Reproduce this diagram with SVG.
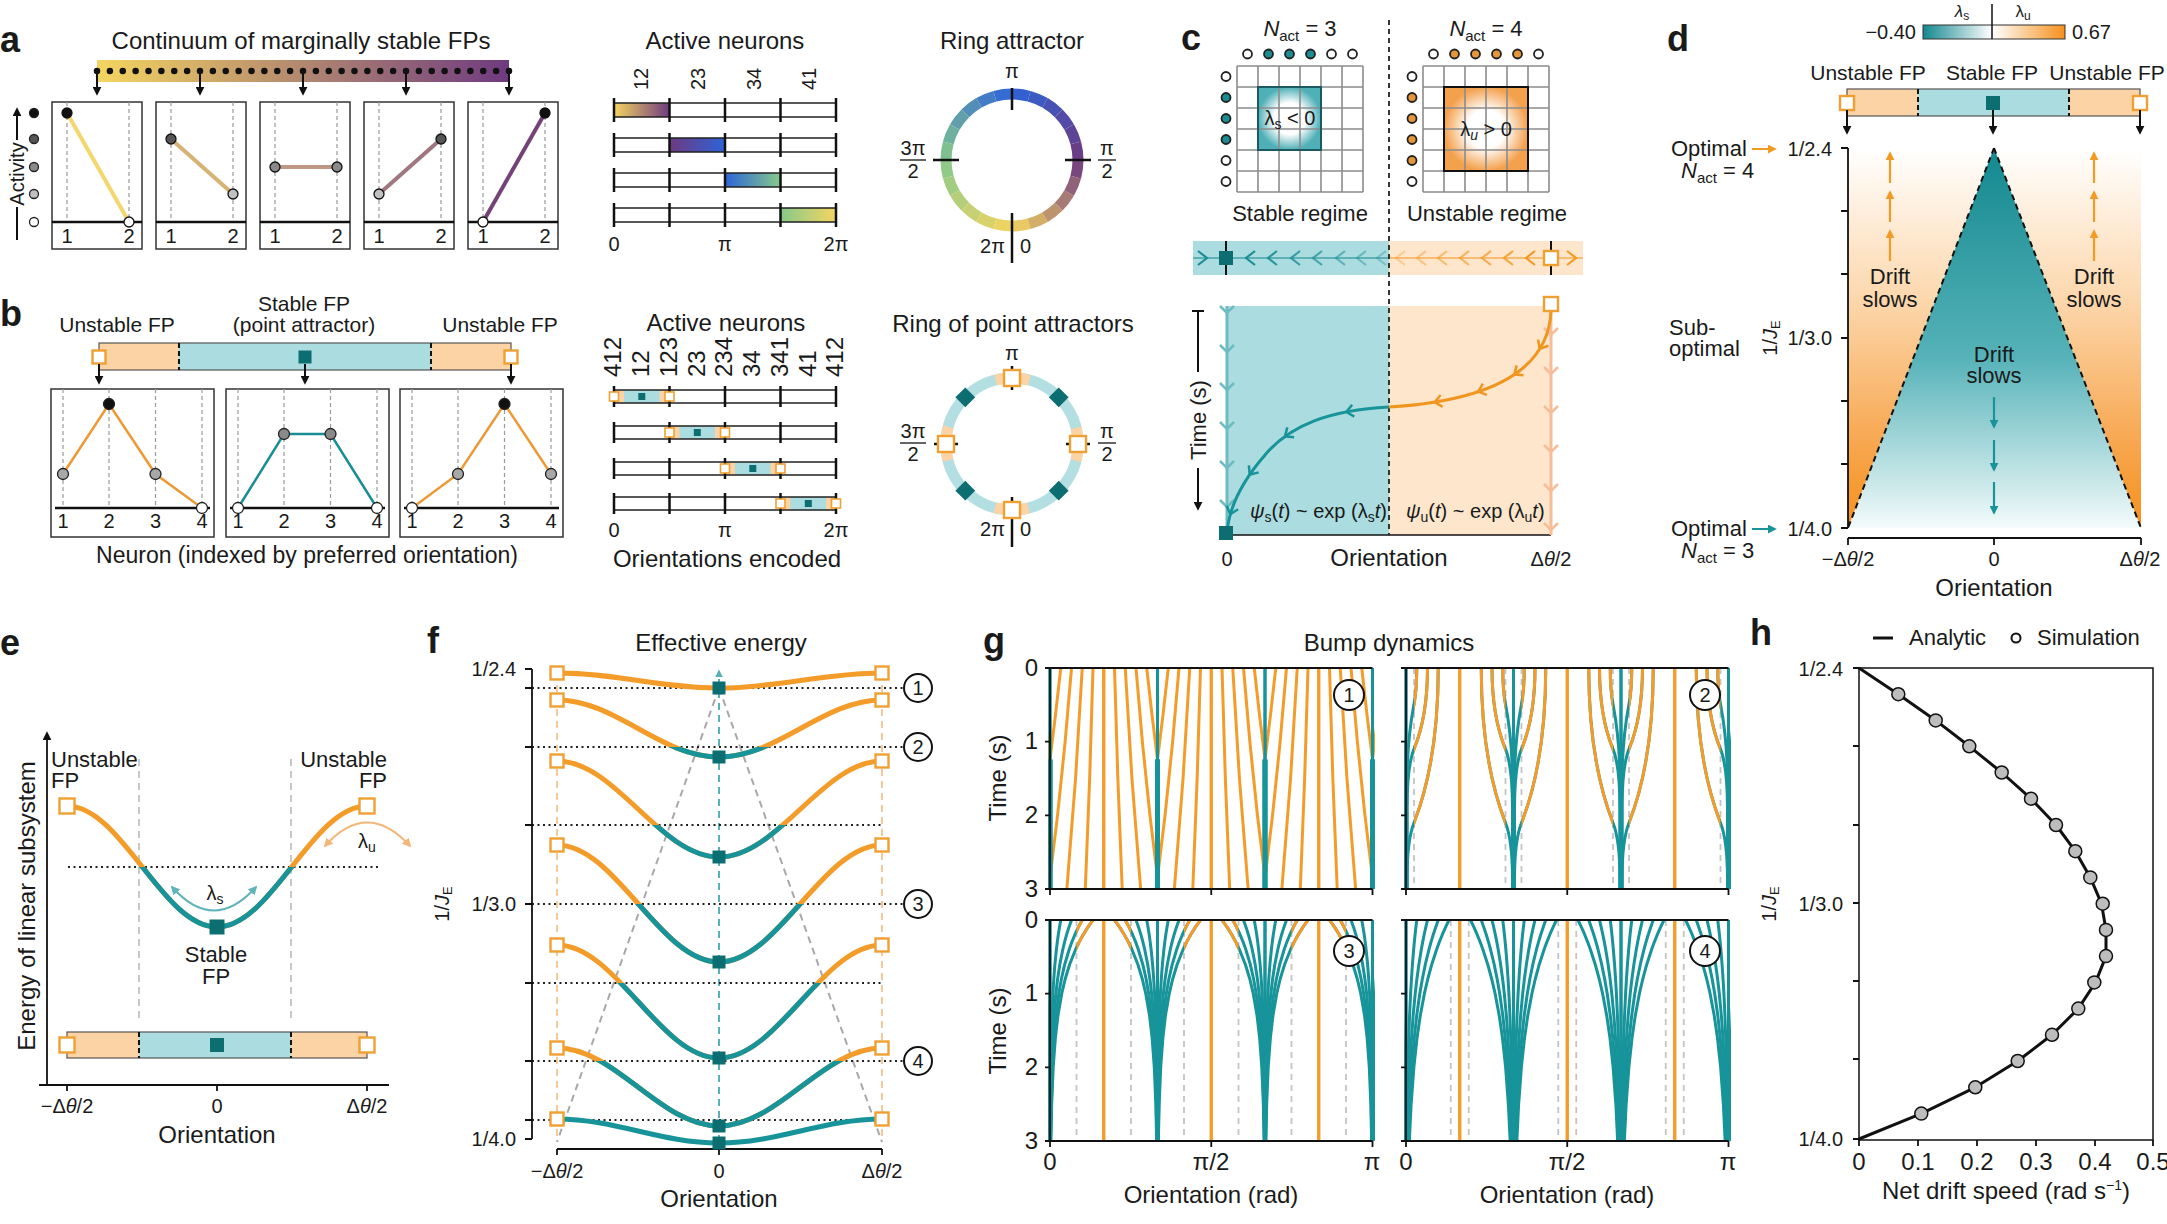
<svg xmlns="http://www.w3.org/2000/svg" width="2167" height="1224" viewBox="0 0 2167 1224">
<style>
text{font-family:"Liberation Sans",Arial,sans-serif;fill:#1a1a1a;font-size:24px}
.pl{font-size:36px;font-weight:bold}
.tk{font-size:20px}
.md{font-size:22px}
.m{text-anchor:middle}
.e{text-anchor:end}
.it{font-style:italic}
.box{fill:#fff;stroke:#333;stroke-width:1.5}
.dg{stroke:#9a9a9a;stroke-width:1.2;stroke-dasharray:4 3;fill:none}
.dg2{stroke:#c4c4c4;stroke-width:1.8;stroke-dasharray:6 5;fill:none}
.osq{fill:#fff;stroke:#f0a032;stroke-width:2.4}
.tsq{fill:#0d6e72}
.ax{stroke:#111;stroke-width:1.8;fill:none}
.ln{stroke:#111;stroke-width:2;fill:none}
.dot{stroke:#222;stroke-width:2;stroke-dasharray:2 3.5;fill:none}
.gl{stroke-width:3;fill:none;stroke-linejoin:round}
.ofill{fill:#fcd3a5}
.tfill{fill:#aadce0}
.sep{stroke:#111;stroke-width:2;stroke-dasharray:5 3;fill:none}
</style>
<defs>
<linearGradient id="gYP"><stop offset="0" stop-color="#f5d560"/><stop offset="1" stop-color="#6e3a80"/></linearGradient>
<linearGradient id="gPB"><stop offset="0" stop-color="#6e3a80"/><stop offset="1" stop-color="#2d63d8"/></linearGradient>
<linearGradient id="gBG"><stop offset="0" stop-color="#2d63d8"/><stop offset="1" stop-color="#86c98a"/></linearGradient>
<linearGradient id="gGY"><stop offset="0" stop-color="#86c98a"/><stop offset="1" stop-color="#f5d560"/></linearGradient>
<linearGradient id="gTH"><stop offset="0" stop-color="#13888f"/><stop offset="1" stop-color="#ffffff"/></linearGradient>
<linearGradient id="gOH"><stop offset="0" stop-color="#ffffff"/><stop offset="1" stop-color="#f5911c"/></linearGradient>
<linearGradient id="gTV" x1="0" y1="0" x2="0" y2="1"><stop offset="0" stop-color="#13888f"/><stop offset="0.55" stop-color="#55b2b8"/><stop offset="1" stop-color="#f4fbfb"/></linearGradient>
<linearGradient id="gOV" x1="0" y1="0" x2="0" y2="1"><stop offset="0" stop-color="#ffffff"/><stop offset="0.4" stop-color="#fcd7ac"/><stop offset="0.8" stop-color="#f7a44a"/><stop offset="1" stop-color="#f5911c"/></linearGradient>
<radialGradient id="rT"><stop offset="0" stop-color="#fff"/><stop offset="0.5" stop-color="#fff"/><stop offset="1" stop-color="#4fb0b7"/></radialGradient>
<radialGradient id="rO"><stop offset="0" stop-color="#fff"/><stop offset="0.45" stop-color="#fff"/><stop offset="1" stop-color="#f4a14e"/></radialGradient>
<marker id="ah" viewBox="0 0 10 10" refX="8" refY="5" markerWidth="9" markerHeight="9" markerUnits="userSpaceOnUse" orient="auto"><path d="M0,0L10,5L0,10z" fill="#111"/></marker>
<marker id="ahO" viewBox="0 0 10 10" refX="8" refY="5" markerWidth="9" markerHeight="9" markerUnits="userSpaceOnUse" orient="auto"><path d="M0,0L10,5L0,10z" fill="#f39a24"/></marker>
<marker id="ahT" viewBox="0 0 10 10" refX="8" refY="5" markerWidth="9" markerHeight="9" markerUnits="userSpaceOnUse" orient="auto"><path d="M0,0L10,5L0,10z" fill="#17939a"/></marker>
<marker id="ahT2" viewBox="0 0 10 10" refX="8" refY="5" markerWidth="8" markerHeight="8" markerUnits="userSpaceOnUse" orient="auto"><path d="M0,0L10,5L0,10z" fill="#5ab0b6"/></marker>
<marker id="ahLT" viewBox="0 0 10 10" refX="8" refY="5" markerWidth="9" markerHeight="9" markerUnits="userSpaceOnUse" orient="auto-start-reverse"><path d="M0,0L10,5L0,10z" fill="#5fb3b9"/></marker>
<marker id="ahLO" viewBox="0 0 10 10" refX="8" refY="5" markerWidth="9" markerHeight="9" markerUnits="userSpaceOnUse" orient="auto-start-reverse"><path d="M0,0L10,5L0,10z" fill="#f4b676"/></marker>
<clipPath id="ce"><rect x="40" y="867" width="360" height="80"/></clipPath>
<clipPath id="cf2"><rect x="540" y="747" width="360" height="20"/></clipPath>
<clipPath id="cf3"><rect x="540" y="825" width="360" height="40"/></clipPath>
<clipPath id="cf4"><rect x="540" y="904" width="360" height="65"/></clipPath>
<clipPath id="cf5"><rect x="540" y="983" width="360" height="80"/></clipPath>
<clipPath id="cf6"><rect x="540" y="1061" width="360" height="70"/></clipPath>
<clipPath id="cg1"><rect x="1048" y="666" width="327" height="225"/></clipPath>
<clipPath id="cg2"><rect x="1404" y="666" width="327" height="225"/></clipPath>
<clipPath id="cg3"><rect x="1048" y="918" width="327" height="225"/></clipPath>
<clipPath id="cg4"><rect x="1404" y="918" width="327" height="225"/></clipPath>
<clipPath id="cx2"><rect x="8" y="-5" width="60" height="235"/></clipPath>
<clipPath id="cx3"><rect x="26.5" y="-5" width="60" height="235"/></clipPath>
<g id="h1">
<g class="gl" stroke="#f39c2a">
<path d="M10.75,0L5.65,45.7L0,91.4"/>
<path d="M21.5,0L15.15,73.7L7.55,147.4L0,209.3"/>
<path d="M32.25,0L25.55,110.5L16.85,221"/>
<path d="M43,0L39.65,110.5L35.3,221"/>
<path d="M53.75,0V221"/>
</g>
<path d="M0,0V221" stroke="#17939a" stroke-width="3"/>
<path d="M0,91.4V221" stroke="#17939a" stroke-width="5"/>
</g>
<g id="l2" class="gl">
<path d="M10.75,0Q10.75,21.7 8,36.1Q1.5,70 1,110L1,221"/>
<path d="M21.5,0Q21.5,48.7 8,81.1Q1.25,97.3 1,140L1,221"/>
<path d="M32.25,0Q32.25,92.9 8,154.8Q1.2,172 1,210L1,221"/>
</g>
<g id="h2">
<path d="M8,0V221" class="dg2"/>
<use href="#l2" stroke="#17939a"/>
<use href="#l2" stroke="#f39c2a" clip-path="url(#cx2)"/>
<path d="M53.75,0V221" stroke="#f39c2a" stroke-width="3"/>
<path d="M0,0V221" stroke="#17939a" stroke-width="3"/>
</g>
<g id="l3" class="gl">
<polyline points="10.75,0 9.44,7.4 8.29,14.7 7.28,22.1 6.4,29.5 4.92,44.2 3.79,59 2.93,73.7 1.98,95.8 1.34,117.9 0.8,147.4 0.42,184.3 0.22,221"/>
<polyline points="21.5,0 18.88,7.4 16.58,14.7 14.56,22.1 12.79,29.5 9.85,44.2 7.59,59 5.86,73.7 3.97,95.8 2.69,117.9 1.6,147.4 0.83,184.3 0.43,221"/>
<polyline points="32.25,0 28.32,7.4 24.86,14.7 21.83,22.1 19.19,29.5 14.77,44.2 11.38,59 8.79,73.7 5.95,95.8 4.03,117.9 2.4,147.4 1.25,184.3 0.65,221"/>
<polyline points="43,0 37.75,7.4 33.15,14.7 29.11,22.1 25.59,29.5 19.69,44.2 15.18,59 11.72,73.7 7.93,95.8 5.38,117.9 3.19,147.4 1.67,184.3 0.87,221"/>
</g>
<g id="h3">
<path d="M26.5,0V221" class="dg2"/>
<use href="#l3" stroke="#17939a"/>
<use href="#l3" stroke="#f39c2a" clip-path="url(#cx3)"/>
<path d="M53.75,0V221" stroke="#f39c2a" stroke-width="3"/>
<path d="M0,0V221" stroke="#17939a" stroke-width="3"/>
</g>
<g id="l4" class="gl">
<polyline points="10.75,0 9.88,7.4 9.07,14.7 8.33,22.1 7.65,29.5 6.46,44.2 5.45,59 4.59,73.7 3.56,95.8 2.76,117.9 1.96,147.4 1.28,184.3 0.84,221"/>
<polyline points="21.5,0 19.75,7.4 18.14,14.7 16.66,22.1 15.3,29.5 12.91,44.2 10.89,59 9.19,73.7 7.12,95.8 5.52,117.9 3.93,147.4 2.57,184.3 1.68,221"/>
<polyline points="32.25,0 29.63,7.4 27.21,14.7 24.99,22.1 22.96,29.5 19.37,44.2 16.34,59 13.78,73.7 10.68,95.8 8.28,117.9 5.89,147.4 3.85,184.3 2.52,221"/>
<polyline points="43,0 39.5,7.4 36.28,14.7 33.33,22.1 30.61,29.5 25.82,44.2 21.78,59 18.38,73.7 14.24,95.8 11.04,117.9 7.86,147.4 5.13,184.3 3.36,221"/>
</g>
<g id="h4">
<path d="M44.75,0V221" class="dg2"/>
<use href="#l4" stroke="#17939a"/>
<path d="M53.75,0V221" stroke="#f39c2a" stroke-width="3"/>
<path d="M0,0V221" stroke="#17939a" stroke-width="3"/>
</g>
<g id="f1"><use href="#h1"/><use href="#h1" transform="scale(-1,1)"/></g>
<g id="f2"><use href="#h2"/><use href="#h2" transform="scale(-1,1)"/></g>
<g id="f3"><use href="#h3"/><use href="#h3" transform="scale(-1,1)"/></g>
<g id="f4"><use href="#h4"/><use href="#h4" transform="scale(-1,1)"/></g>
</defs>
<rect width="2167" height="1224" fill="#fff"/>

<!-- ================= PANEL A ================= -->
<g id="panel-a">
<text class="pl" x="0" y="52">a</text>
<text class="m" x="301" y="49">Continuum of marginally stable FPs</text>
<rect x="97" y="60" width="412" height="22" fill="url(#gYP)"/>
<line x1="97" y1="71" x2="509.1" y2="71" stroke="#111" stroke-width="6.5" stroke-linecap="round" stroke-dasharray="0 12.875"/>
<g class="ln">
<line x1="97" y1="71" x2="97" y2="94" marker-end="url(#ah)"/>
<line x1="200" y1="71" x2="200" y2="94" marker-end="url(#ah)"/>
<line x1="303" y1="71" x2="303" y2="94" marker-end="url(#ah)"/>
<line x1="406" y1="71" x2="406" y2="94" marker-end="url(#ah)"/>
<line x1="509" y1="71" x2="509" y2="94" marker-end="url(#ah)"/>
</g>
<g id="a-activity-axis">
<line x1="17" y1="240" x2="17" y2="207" class="ln"/>
<line x1="17" y1="140" x2="17" y2="109" class="ln" marker-end="url(#ah)"/>
<text class="tk m" transform="translate(24,174) rotate(-90)">Activity</text>
<g stroke="#222" stroke-width="1.3">
<circle cx="34" cy="113" r="4.5" fill="#111"/>
<circle cx="34" cy="139" r="4.5" fill="#555"/>
<circle cx="34" cy="167" r="4.5" fill="#8a8a8a"/>
<circle cx="34" cy="194" r="4.5" fill="#c0c0c0"/>
<circle cx="34" cy="222" r="4.5" fill="#fff"/>
</g>
</g>
<g id="a-box1">
<rect class="box" x="52" y="102" width="90" height="147"/>
<path class="dg" d="M67,102V222M129,102V222"/>
<path d="M52,222H142" stroke="#111" stroke-width="2.5"/>
<line x1="67" y1="113" x2="129" y2="222" stroke="#f3d76e" stroke-width="4"/>
<circle cx="67" cy="113" r="5" fill="#111" stroke="#111" stroke-width="1.3"/>
<circle cx="129" cy="222" r="5" fill="#fff" stroke="#111" stroke-width="1.3"/>
<text class="tk m" x="67" y="243">1</text><text class="tk m" x="129" y="243">2</text>
</g>
<g id="a-box2">
<rect class="box" x="156" y="102" width="90" height="147"/>
<path class="dg" d="M171,102V222M233,102V222"/>
<path d="M156,222H246" stroke="#111" stroke-width="2.5"/>
<line x1="171" y1="139" x2="233" y2="194" stroke="#d7b275" stroke-width="4"/>
<circle cx="171" cy="139" r="5" fill="#555" stroke="#111" stroke-width="1.3"/>
<circle cx="233" cy="194" r="5" fill="#c0c0c0" stroke="#111" stroke-width="1.3"/>
<text class="tk m" x="171" y="243">1</text><text class="tk m" x="233" y="243">2</text>
</g>
<g id="a-box3">
<rect class="box" x="260" y="102" width="90" height="147"/>
<path class="dg" d="M275,102V222M337,102V222"/>
<path d="M260,222H350" stroke="#111" stroke-width="2.5"/>
<line x1="275" y1="167" x2="337" y2="167" stroke="#bf9884" stroke-width="4"/>
<circle cx="275" cy="167" r="5" fill="#8a8a8a" stroke="#111" stroke-width="1.3"/>
<circle cx="337" cy="167" r="5" fill="#8a8a8a" stroke="#111" stroke-width="1.3"/>
<text class="tk m" x="275" y="243">1</text><text class="tk m" x="337" y="243">2</text>
</g>
<g id="a-box4">
<rect class="box" x="364" y="102" width="90" height="147"/>
<path class="dg" d="M379,102V222M441,102V222"/>
<path d="M364,222H454" stroke="#111" stroke-width="2.5"/>
<line x1="379" y1="194" x2="441" y2="139" stroke="#a07680" stroke-width="4"/>
<circle cx="379" cy="194" r="5" fill="#c0c0c0" stroke="#111" stroke-width="1.3"/>
<circle cx="441" cy="139" r="5" fill="#555" stroke="#111" stroke-width="1.3"/>
<text class="tk m" x="379" y="243">1</text><text class="tk m" x="441" y="243">2</text>
</g>
<g id="a-box5">
<rect class="box" x="468" y="102" width="90" height="147"/>
<path class="dg" d="M483,102V222M545,102V222"/>
<path d="M468,222H558" stroke="#111" stroke-width="2.5"/>
<line x1="483" y1="222" x2="545" y2="113" stroke="#744279" stroke-width="4"/>
<circle cx="483" cy="222" r="5" fill="#fff" stroke="#111" stroke-width="1.3"/>
<circle cx="545" cy="113" r="5" fill="#111" stroke="#111" stroke-width="1.3"/>
<text class="tk m" x="483" y="243">1</text><text class="tk m" x="545" y="243">2</text>
</g>
<g id="a-active">
<text class="m" x="725" y="49">Active neurons</text>
<text class="tk" transform="translate(648,90) rotate(-90)">12</text>
<text class="tk" transform="translate(705,90) rotate(-90)">23</text>
<text class="tk" transform="translate(761,90) rotate(-90)">34</text>
<text class="tk" transform="translate(816,90) rotate(-90)">41</text>
<rect x="614" y="103" width="55.5" height="14" fill="url(#gYP)"/>
<rect x="669.5" y="138" width="55.5" height="14" fill="url(#gPB)"/>
<rect x="725" y="173" width="55.5" height="14" fill="url(#gBG)"/>
<rect x="780.5" y="208" width="55.5" height="14" fill="url(#gGY)"/>
<path d="M614,103H836M614,117H836M614,138H836M614,152H836M614,173H836M614,187H836M614,208H836M614,222H836" stroke="#222" stroke-width="1.5"/>
<path d="M614,98V122M669.5,98V122M725,98V122M780.5,98V122M836,98V122M614,133V157M669.5,133V157M725,133V157M780.5,133V157M836,133V157M614,168V192M669.5,168V192M725,168V192M780.5,168V192M836,168V192M614,203V227M669.5,203V227M725,203V227M780.5,203V227M836,203V227" stroke="#111" stroke-width="2.5"/>
<text class="tk m" x="614" y="251">0</text>
<text class="tk m" x="725" y="251">π</text>
<text class="tk m" x="836" y="251">2π</text>
</g>
<g id="a-ring">
<text class="m" x="1012" y="49">Ring attractor</text>
<g fill="none" stroke-width="11">
<path d="M1012,226A66,66 0 0 0 1029.08,223.75" stroke="#eac863"/>
<path d="M1029.08,223.75A66,66 0 0 0 1045,217.16" stroke="#d3ae68"/>
<path d="M1045,217.16A66,66 0 0 0 1058.67,206.67" stroke="#bd946d"/>
<path d="M1058.67,206.67A66,66 0 0 0 1069.16,193" stroke="#a67b73"/>
<path d="M1069.16,193A66,66 0 0 0 1075.75,177.08" stroke="#906178"/>
<path d="M1075.75,177.08A66,66 0 0 0 1078,160" stroke="#79477d"/>
<path d="M1078,160A66,66 0 0 0 1075.75,142.92" stroke="#693d87"/>
<path d="M1075.75,142.92A66,66 0 0 0 1069.16,127" stroke="#5e4496"/>
<path d="M1069.16,127A66,66 0 0 0 1058.67,113.33" stroke="#534ba5"/>
<path d="M1058.67,113.33A66,66 0 0 0 1045,102.84" stroke="#4852b3"/>
<path d="M1045,102.84A66,66 0 0 0 1029.08,96.25" stroke="#3d59c2"/>
<path d="M1029.08,96.25A66,66 0 0 0 1012,94" stroke="#3260d1"/>
<path d="M1012,94A66,66 0 0 0 994.92,96.25" stroke="#346cd2"/>
<path d="M994.92,96.25A66,66 0 0 0 979,102.84" stroke="#437cc5"/>
<path d="M979,102.84A66,66 0 0 0 965.33,113.33" stroke="#528eb8"/>
<path d="M965.33,113.33A66,66 0 0 0 954.84,127" stroke="#619fab"/>
<path d="M954.84,127A66,66 0 0 0 948.25,142.92" stroke="#70b09e"/>
<path d="M948.25,142.92A66,66 0 0 0 946,160" stroke="#7fc091"/>
<path d="M946,160A66,66 0 0 0 948.25,177.08" stroke="#8fca87"/>
<path d="M948.25,177.08A66,66 0 0 0 954.84,193" stroke="#a2cc80"/>
<path d="M954.84,193A66,66 0 0 0 965.33,206.67" stroke="#b4ce79"/>
<path d="M965.33,206.67A66,66 0 0 0 979,217.16" stroke="#c7d072"/>
<path d="M979,217.16A66,66 0 0 0 994.92,223.75" stroke="#d9d26b"/>
<path d="M994.92,223.75A66,66 0 0 0 1012,226" stroke="#ecd464"/>
</g>
<path d="M1012,88V110M1065,160H1091M933,160H959M1012,213V263" stroke="#111" stroke-width="2.5"/>
<text class="tk m" x="1012" y="78">π</text>
<text class="tk m" x="1107" y="155">π</text><line x1="1098" y1="160" x2="1116" y2="160" stroke="#111" stroke-width="1.3"/><text class="tk m" x="1107" y="178">2</text>
<text class="tk m" x="913" y="155">3π</text><line x1="900" y1="160" x2="926" y2="160" stroke="#111" stroke-width="1.3"/><text class="tk m" x="913" y="178">2</text>
<text class="tk e" x="1005" y="253">2π</text>
<text class="tk" x="1020" y="253">0</text>
</g>
</g>

<!-- ================= PANEL B ================= -->
<g id="panel-b">
<text class="pl" x="0" y="326">b</text>
<text class="m" x="117" y="332" style="font-size:21px">Unstable FP</text>
<text class="m" x="304" y="311" style="font-size:21px">Stable FP</text>
<text class="m" x="304" y="332" style="font-size:21px">(point attractor)</text>
<text class="m" x="500" y="332" style="font-size:21px">Unstable FP</text>
<g id="b-bar">
<rect class="ofill" x="99" y="343" width="412" height="27"/>
<rect class="tfill" x="179" y="343" width="252" height="27"/>
<rect x="99" y="343" width="412" height="27" fill="none" stroke="#555" stroke-width="1.2"/>
<path class="sep" d="M179,343V370M431,343V370"/>
<rect class="osq" x="92.5" y="350.5" width="13" height="13"/>
<rect class="osq" x="504.5" y="350.5" width="13" height="13"/>
<rect class="tsq" x="298.5" y="350.5" width="13" height="13"/>
<g class="ln">
<line x1="99" y1="364" x2="99" y2="383" marker-end="url(#ah)"/>
<line x1="305" y1="364" x2="305" y2="383" marker-end="url(#ah)"/>
<line x1="511" y1="364" x2="511" y2="383" marker-end="url(#ah)"/>
</g>
</g>
<g id="b-box1">
<rect class="box" x="51" y="389" width="163" height="148"/>
<path class="dg" d="M63,389V508M109,389V508M155.5,389V508M202,389V508"/>
<path d="M55,508H210" stroke="#111" stroke-width="2.5"/>
<polyline points="63,474 109,404 155.5,474 202,508" fill="none" stroke="#ec9a35" stroke-width="2.5"/>
<g stroke="#222" stroke-width="1.3"><circle cx="63" cy="474" r="5.5" fill="#a8a8a8"/><circle cx="109" cy="404" r="5.5" fill="#111"/><circle cx="155.5" cy="474" r="5.5" fill="#a8a8a8"/><circle cx="202" cy="508" r="5.5" fill="#fff"/></g>
<text class="tk m" x="63" y="528">1</text><text class="tk m" x="109" y="528">2</text><text class="tk m" x="155.5" y="528">3</text><text class="tk m" x="202" y="528">4</text>
</g>
<g id="b-box2">
<rect class="box" x="226" y="389" width="163" height="148"/>
<path class="dg" d="M238,389V508M284,389V508M330.5,389V508M377,389V508"/>
<path d="M230,508H385" stroke="#111" stroke-width="2.5"/>
<polyline points="238,508 284,434 330.5,434 377,508" fill="none" stroke="#1b8e95" stroke-width="2.5"/>
<g stroke="#222" stroke-width="1.3"><circle cx="238" cy="508" r="5.5" fill="#fff"/><circle cx="284" cy="434" r="5.5" fill="#8a8a8a"/><circle cx="330.5" cy="434" r="5.5" fill="#8a8a8a"/><circle cx="377" cy="508" r="5.5" fill="#fff"/></g>
<text class="tk m" x="238" y="528">1</text><text class="tk m" x="284" y="528">2</text><text class="tk m" x="330.5" y="528">3</text><text class="tk m" x="377" y="528">4</text>
</g>
<g id="b-box3">
<rect class="box" x="400" y="389" width="163" height="148"/>
<path class="dg" d="M412,389V508M458,389V508M504.5,389V508M551,389V508"/>
<path d="M404,508H559" stroke="#111" stroke-width="2.5"/>
<polyline points="412,508 458,474 504.5,404 551,474" fill="none" stroke="#ec9a35" stroke-width="2.5"/>
<g stroke="#222" stroke-width="1.3"><circle cx="412" cy="508" r="5.5" fill="#fff"/><circle cx="458" cy="474" r="5.5" fill="#a8a8a8"/><circle cx="504.5" cy="404" r="5.5" fill="#111"/><circle cx="551" cy="474" r="5.5" fill="#a8a8a8"/></g>
<text class="tk m" x="412" y="528">1</text><text class="tk m" x="458" y="528">2</text><text class="tk m" x="504.5" y="528">3</text><text class="tk m" x="551" y="528">4</text>
</g>
<text class="m" x="307" y="563" style="font-size:23px">Neuron (indexed by preferred orientation)</text>
<g id="b-active">
<text class="m" x="726" y="331">Active neurons</text>
<g class="tk">
<text transform="translate(621,377) rotate(-90)">412</text>
<text transform="translate(649,377) rotate(-90)">12</text>
<text transform="translate(677,377) rotate(-90)">123</text>
<text transform="translate(705,377) rotate(-90)">23</text>
<text transform="translate(732,377) rotate(-90)">234</text>
<text transform="translate(760,377) rotate(-90)">34</text>
<text transform="translate(788,377) rotate(-90)">341</text>
<text transform="translate(816,377) rotate(-90)">41</text>
<text transform="translate(843,377) rotate(-90)">412</text>
</g>
<rect class="ofill" x="614" y="390" width="55.5" height="13"/><rect class="tfill" x="624" y="390" width="35.5" height="13"/>
<rect class="ofill" x="669.5" y="426" width="55.5" height="13"/><rect class="tfill" x="679.5" y="426" width="35.5" height="13"/>
<rect class="ofill" x="725" y="462" width="55.5" height="13"/><rect class="tfill" x="735" y="462" width="35.5" height="13"/>
<rect class="ofill" x="780.5" y="497" width="55.5" height="13"/><rect class="tfill" x="790.5" y="497" width="35.5" height="13"/>
<path d="M614,390H836M614,403H836M614,426H836M614,439H836M614,462H836M614,475H836M614,497H836M614,510H836" stroke="#222" stroke-width="1.5"/>
<path d="M614,386V407M669.5,386V407M725,386V407M780.5,386V407M836,386V407M614,422V443M669.5,422V443M725,422V443M780.5,422V443M836,422V443M614,458V479M669.5,458V479M725,458V479M780.5,458V479M836,458V479M614,493V514M669.5,493V514M725,493V514M780.5,493V514M836,493V514" stroke="#111" stroke-width="2.5"/>
<g class="osq" style="stroke-width:1.6">
<rect x="609.5" y="392" width="9" height="9"/><rect x="665" y="392" width="9" height="9"/>
<rect x="665" y="428" width="9" height="9"/><rect x="720.5" y="428" width="9" height="9"/>
<rect x="720.5" y="464" width="9" height="9"/><rect x="776" y="464" width="9" height="9"/>
<rect x="776" y="499" width="9" height="9"/><rect x="831.5" y="499" width="9" height="9"/>
</g>
<g class="tsq">
<rect x="638.3" y="393" width="7" height="7"/><rect x="693.8" y="429" width="7" height="7"/>
<rect x="749.3" y="465" width="7" height="7"/><rect x="804.8" y="500" width="7" height="7"/>
</g>
<text class="tk m" x="614" y="537">0</text>
<text class="tk m" x="725" y="537">π</text>
<text class="tk m" x="836" y="537">2π</text>
<text class="m" x="727" y="567">Orientations encoded</text>
</g>
<g id="b-ring">
<text class="m" x="1013" y="332">Ring of point attractors</text>
<circle cx="1012" cy="444" r="66" fill="none" stroke="#b3dfe3" stroke-width="11"/>
<circle cx="1012" cy="444" r="66" fill="none" stroke="#fcd3a5" stroke-width="11" stroke-dasharray="34 69.67" stroke-dashoffset="17"/>
<path d="M1012,366V390M934,444H958M1066,444H1090M1012,497V547" stroke="#111" stroke-width="2.5"/>
<g class="osq">
<rect x="1004" y="370" width="16" height="16"/><rect x="1070" y="436" width="16" height="16"/>
<rect x="1004" y="502" width="16" height="16"/><rect x="938" y="436" width="16" height="16"/>
</g>
<g class="tsq">
<rect x="-7" y="-7" width="14" height="14" transform="translate(965.3,397.3) rotate(45)"/>
<rect x="-7" y="-7" width="14" height="14" transform="translate(1058.7,397.3) rotate(45)"/>
<rect x="-7" y="-7" width="14" height="14" transform="translate(965.3,490.7) rotate(45)"/>
<rect x="-7" y="-7" width="14" height="14" transform="translate(1058.7,490.7) rotate(45)"/>
</g>
<text class="tk m" x="1012" y="360">π</text>
<text class="tk m" x="1107" y="438">π</text><line x1="1098" y1="443" x2="1116" y2="443" stroke="#111" stroke-width="1.3"/><text class="tk m" x="1107" y="461">2</text>
<text class="tk m" x="913" y="438">3π</text><line x1="900" y1="443" x2="926" y2="443" stroke="#111" stroke-width="1.3"/><text class="tk m" x="913" y="461">2</text>
<text class="tk e" x="1005" y="536">2π</text>
<text class="tk" x="1020" y="536">0</text>
</g>
</g>

<!-- ================= PANEL C ================= -->
<g id="panel-c">
<text class="pl" x="1181" y="50">c</text>
<text class="md m" x="1300" y="36"><tspan class="it">N</tspan><tspan font-size="15" dy="5">act</tspan><tspan dy="-5"> = 3</tspan></text>
<text class="md m" x="1486" y="36"><tspan class="it">N</tspan><tspan font-size="15" dy="5">act</tspan><tspan dy="-5"> = 4</tspan></text>
<rect x="1258" y="87" width="63" height="63" fill="url(#rT)"/>
<rect x="1444" y="87" width="84" height="84" fill="url(#rO)"/>
<path d="M1237,66V192M1258,66V192M1279,66V192M1300,66V192M1321,66V192M1342,66V192M1363,66V192M1237,66H1363M1237,87H1363M1237,108H1363M1237,129H1363M1237,150H1363M1237,171H1363M1237,192H1363" stroke="#8c8c8c" stroke-width="1.6" fill="none"/>
<path d="M1423,66V192M1444,66V192M1465,66V192M1486,66V192M1507,66V192M1528,66V192M1549,66V192M1423,66H1549M1423,87H1549M1423,108H1549M1423,129H1549M1423,150H1549M1423,171H1549M1423,192H1549" stroke="#8c8c8c" stroke-width="1.6" fill="none"/>
<rect x="1258" y="87" width="63" height="63" fill="none" stroke="#1a5a60" stroke-width="2"/>
<rect x="1444" y="87" width="84" height="84" fill="none" stroke="#111" stroke-width="2"/>
<text class="tk m" x="1290" y="125">λ<tspan font-size="14" dy="4">s</tspan><tspan dy="-4"> &lt; 0</tspan></text>
<text class="tk m" x="1486" y="136">λ<tspan font-size="14" dy="4" class="it">u</tspan><tspan dy="-4"> &gt; 0</tspan></text>
<g stroke="#222" stroke-width="1.8">
<circle cx="1247.5" cy="54" r="4.5" fill="#fff"/><circle cx="1268.5" cy="54" r="4.5" fill="#1b8c93"/><circle cx="1289.5" cy="54" r="4.5" fill="#1b8c93"/><circle cx="1310.5" cy="54" r="4.5" fill="#1b8c93"/><circle cx="1331.5" cy="54" r="4.5" fill="#fff"/><circle cx="1352.5" cy="54" r="4.5" fill="#fff"/>
<circle cx="1226" cy="76.5" r="4.5" fill="#fff"/><circle cx="1226" cy="97.5" r="4.5" fill="#1b8c93"/><circle cx="1226" cy="118.5" r="4.5" fill="#1b8c93"/><circle cx="1226" cy="139.5" r="4.5" fill="#1b8c93"/><circle cx="1226" cy="160.5" r="4.5" fill="#fff"/><circle cx="1226" cy="181.5" r="4.5" fill="#fff"/>
<circle cx="1433.5" cy="54" r="4.5" fill="#fff"/><circle cx="1454.5" cy="54" r="4.5" fill="#e6963a"/><circle cx="1475.5" cy="54" r="4.5" fill="#e6963a"/><circle cx="1496.5" cy="54" r="4.5" fill="#e6963a"/><circle cx="1517.5" cy="54" r="4.5" fill="#e6963a"/><circle cx="1538.5" cy="54" r="4.5" fill="#fff"/>
<circle cx="1412" cy="76.5" r="4.5" fill="#fff"/><circle cx="1412" cy="97.5" r="4.5" fill="#e6963a"/><circle cx="1412" cy="118.5" r="4.5" fill="#e6963a"/><circle cx="1412" cy="139.5" r="4.5" fill="#e6963a"/><circle cx="1412" cy="160.5" r="4.5" fill="#e6963a"/><circle cx="1412" cy="181.5" r="4.5" fill="#fff"/>
</g>
<text class="md m" x="1300" y="221">Stable regime</text>
<text class="md m" x="1487" y="221">Unstable regime</text>
<g id="c-flowbar">
<rect x="1193" y="241" width="196" height="34" fill="#aadce0"/>
<rect x="1389" y="241" width="194" height="34" fill="#fde6cc"/>
<line x1="1193" y1="258" x2="1389" y2="258" stroke="#1b8e95" stroke-width="1.5" opacity="0.7"/>
<line x1="1389" y1="258" x2="1583" y2="258" stroke="#f39a24" stroke-width="1.5" opacity="0.7"/>
<path d="M1226,241V275M1551,241V275" stroke="#111" stroke-width="2"/>
<g fill="none" stroke="#1b8e95" stroke-width="2.2">
<path d="M1198,251L1207,258L1198,265"/>
<path d="M1255,251L1246,258L1255,265"/>
<path d="M1277,251L1268,258L1277,265" opacity="0.9"/>
<path d="M1300,251L1291,258L1300,265" opacity="0.8"/>
<path d="M1322,251L1313,258L1322,265" opacity="0.7"/>
<path d="M1345,251L1336,258L1345,265" opacity="0.55"/>
<path d="M1366,251L1357,258L1366,265" opacity="0.45"/>
<path d="M1386,251L1377,258L1386,265" opacity="0.35"/>
</g>
<g fill="none" stroke="#f39a24" stroke-width="2.2">
<path d="M1405,251L1396,258L1405,265" opacity="0.35"/>
<path d="M1426,251L1417,258L1426,265" opacity="0.45"/>
<path d="M1447,251L1438,258L1447,265" opacity="0.55"/>
<path d="M1469,251L1460,258L1469,265" opacity="0.65"/>
<path d="M1491,251L1482,258L1491,265" opacity="0.75"/>
<path d="M1513,251L1504,258L1513,265" opacity="0.85"/>
<path d="M1535,251L1526,258L1535,265"/>
<path d="M1567,251L1576,258L1567,265"/>
</g>
<rect class="tsq" x="1219" y="251" width="14" height="14"/>
<rect class="osq" x="1544" y="251" width="14" height="14"/>
</g>
<g id="c-plot">
<rect x="1227" y="306" width="162" height="229" fill="#aadce0"/>
<rect x="1389" y="306" width="162" height="229" fill="#fde6cc"/>
<line x1="1227" y1="535" x2="1551" y2="535" stroke="#111" stroke-width="1.5"/>
<line x1="1227" y1="306" x2="1227" y2="533" stroke="#6cbcc2" stroke-width="3"/>
<line x1="1551" y1="312" x2="1551" y2="535" stroke="#f6bd98" stroke-width="3"/>
<g fill="none" stroke="#6cbcc2" stroke-width="2.5">
<path d="M1220,306L1227,313L1234,306"/><path d="M1220,345L1227,352L1234,345"/><path d="M1220,383L1227,390L1234,383"/><path d="M1220,422L1227,429L1234,422"/><path d="M1220,461L1227,468L1234,461"/><path d="M1220,500L1227,507L1234,500"/>
</g>
<g fill="none" stroke="#f6bd98" stroke-width="2.5">
<path d="M1544,328L1551,335L1558,328"/><path d="M1544,367L1551,374L1558,367"/><path d="M1544,406L1551,413L1558,406"/><path d="M1544,445L1551,452L1558,445"/><path d="M1544,484L1551,491L1558,484"/><path d="M1544,523L1551,530L1558,523"/>
</g>
<line x1="1389" y1="20" x2="1389" y2="535" stroke="#222" stroke-width="1.8" stroke-dasharray="5 4"/>
<path d="M1551,311C1548,380 1470,402 1389,407" fill="none" stroke="#f0961e" stroke-width="3"/>
<path d="M1389,407C1330,410 1290,425 1265,455C1245,478 1229,505 1227,533" fill="none" stroke="#17939a" stroke-width="3"/>
<g fill="none" stroke="#f0961e" stroke-width="2.5">
<path d="M-5,-6L2,0L-5,6" transform="translate(1540.7,347) rotate(120.4)"/>
<path d="M-5,-6L2,0L-5,6" transform="translate(1516,373.2) rotate(144.9)"/>
<path d="M-5,-6L2,0L-5,6" transform="translate(1480.1,390.9) rotate(160.8)"/>
<path d="M-5,-6L2,0L-5,6" transform="translate(1436.7,401.8) rotate(170.4)"/>
</g>
<g fill="none" stroke="#17939a" stroke-width="2.5">
<path d="M-5,-6L2,0L-5,6" transform="translate(1348.3,411.6) rotate(169.5)"/>
<path d="M-5,-6L2,0L-5,6" transform="translate(1286.6,435.2) rotate(145.3)"/>
<path d="M-5,-6L2,0L-5,6" transform="translate(1250.9,473) rotate(125)"/>
<path d="M-5,-6L2,0L-5,6" transform="translate(1230.9,512.3) rotate(107)"/>
</g>
<rect class="osq" x="1544" y="297" width="14" height="14"/>
<rect class="tsq" x="1219" y="526" width="14" height="14"/>
<path d="M1192,311H1204M1198,311V372" stroke="#111" stroke-width="2"/>
<line x1="1198" y1="468" x2="1198" y2="509" class="ln" marker-end="url(#ah)"/>
<text class="md m" transform="translate(1206,420) rotate(-90)">Time (s)</text>
<text class="tk" x="1250" y="518"><tspan class="it">ψ</tspan><tspan font-size="14" dy="4">s</tspan><tspan dy="-4">(</tspan><tspan class="it">t</tspan>) ~ exp (λ<tspan font-size="14" dy="4">s</tspan><tspan dy="-4" class="it">t</tspan>)</text>
<text class="tk" x="1406" y="518"><tspan class="it">ψ</tspan><tspan font-size="14" dy="4">u</tspan><tspan dy="-4">(</tspan><tspan class="it">t</tspan>) ~ exp (λ<tspan font-size="14" dy="4">u</tspan><tspan dy="-4" class="it">t</tspan>)</text>
<text class="tk m" x="1227" y="566">0</text>
<text class="m" x="1389" y="566">Orientation</text>
<text class="tk m" x="1551" y="566">Δ<tspan class="it">θ</tspan>/2</text>
</g>
</g>

<!-- ================= PANEL D ================= -->
<g id="panel-d">
<text class="pl" x="1667" y="51">d</text>
<g id="d-colorbar">
<rect x="1923" y="25" width="69" height="14" fill="url(#gTH)"/>
<rect x="1992" y="25" width="73" height="14" fill="url(#gOH)"/>
<rect x="1923" y="25" width="142" height="14" fill="none" stroke="#333" stroke-width="1"/>
<line x1="1992" y1="4" x2="1992" y2="39" stroke="#111" stroke-width="1.5"/>
<text class="tk e" x="1916" y="39">−0.40</text>
<text class="tk" x="2072" y="39">0.67</text>
<text class="m" x="1962" y="17" style="font-size:17px"><tspan class="it">λ</tspan><tspan font-size="12" dy="3">s</tspan></text>
<text class="m" x="2023" y="17" style="font-size:17px">λ<tspan font-size="12" dy="3">u</tspan></text>
</g>
<text class="m" x="1868" y="80" style="font-size:21px">Unstable FP</text>
<text class="m" x="1992" y="80" style="font-size:21px">Stable FP</text>
<text class="m" x="2107" y="80" style="font-size:21px">Unstable FP</text>
<rect class="ofill" x="1847" y="89" width="293" height="27"/>
<rect class="tfill" x="1918" y="89" width="151" height="27"/>
<rect x="1847" y="89" width="293" height="27" fill="none" stroke="#555" stroke-width="1.2"/>
<path class="sep" d="M1918,89V116M2069,89V116"/>
<rect class="osq" x="1840" y="96" width="14" height="14"/>
<rect class="osq" x="2133" y="96" width="14" height="14"/>
<rect class="tsq" x="1986" y="96" width="14" height="14"/>
<g class="ln">
<line x1="1847" y1="110" x2="1847" y2="133" marker-end="url(#ah)"/>
<line x1="1993" y1="110" x2="1993" y2="133" marker-end="url(#ah)"/>
<line x1="2140" y1="110" x2="2140" y2="133" marker-end="url(#ah)"/>
</g>
<rect x="1848" y="148" width="293" height="380" fill="url(#gOV)"/>
<polygon points="1994,148 2141,528 1848,528" fill="url(#gTV)"/>
<path d="M1994,148L1848,528M1994,148L2141,528" stroke="#111" stroke-width="2" stroke-dasharray="6 4" fill="none"/>
<path class="ax" d="M1848,148V528M1841,148H1848M1841,211H1848M1841,274H1848M1841,338H1848M1841,401H1848M1841,464H1848M1841,528H1848"/>
<path class="ax" d="M1848,538H2141M1848,538V545M1994,538V545M2141,538V545"/>
<text class="tk e" x="1832" y="156">1/2.4</text>
<text class="tk e" x="1832" y="345">1/3.0</text>
<text class="tk e" x="1832" y="536">1/4.0</text>
<text class="tk m" transform="translate(1777,338) rotate(-90)">1/<tspan class="it">J</tspan><tspan font-size="13" dy="3">E</tspan></text>
<text class="md" x="1671" y="156">Optimal</text>
<line x1="1752" y1="149" x2="1775" y2="149" stroke="#f39a24" stroke-width="2" marker-end="url(#ahO)"/>
<text class="md" x="1681" y="178"><tspan class="it">N</tspan><tspan font-size="15" dy="5">act</tspan><tspan dy="-5"> = 4</tspan></text>
<text class="md" x="1669" y="335">Sub-</text>
<text class="md" x="1669" y="356">optimal</text>
<text class="md" x="1671" y="536">Optimal</text>
<line x1="1752" y1="529" x2="1775" y2="529" stroke="#17939a" stroke-width="2" marker-end="url(#ahT)"/>
<text class="md" x="1681" y="558"><tspan class="it">N</tspan><tspan font-size="15" dy="5">act</tspan><tspan dy="-5"> = 3</tspan></text>
<text class="md m" x="1890" y="284">Drift</text><text class="md m" x="1890" y="307">slows</text>
<text class="md m" x="2094" y="284">Drift</text><text class="md m" x="2094" y="307">slows</text>
<text class="md m" x="1994" y="362">Drift</text><text class="md m" x="1994" y="383">slows</text>
<g stroke="#f39a24" stroke-width="2.2">
<line x1="1890" y1="183" x2="1890" y2="153" marker-end="url(#ahO)"/>
<line x1="1890" y1="222" x2="1890" y2="192" marker-end="url(#ahO)"/>
<line x1="1890" y1="261" x2="1890" y2="231" marker-end="url(#ahO)"/>
<line x1="2094" y1="183" x2="2094" y2="153" marker-end="url(#ahO)"/>
<line x1="2094" y1="222" x2="2094" y2="192" marker-end="url(#ahO)"/>
<line x1="2094" y1="261" x2="2094" y2="231" marker-end="url(#ahO)"/>
</g>
<g stroke="#17939a" stroke-width="2.2">
<line x1="1994" y1="397" x2="1994" y2="427" marker-end="url(#ahT)"/>
<line x1="1994" y1="440" x2="1994" y2="470" marker-end="url(#ahT)"/>
<line x1="1994" y1="482" x2="1994" y2="513" marker-end="url(#ahT)"/>
</g>
<text class="tk m" x="1848" y="566">−Δ<tspan class="it">θ</tspan>/2</text>
<text class="tk m" x="1994" y="566">0</text>
<text class="tk m" x="2140" y="566">Δ<tspan class="it">θ</tspan>/2</text>
<text class="m" x="1994" y="596">Orientation</text>
</g>

<!-- ================= PANEL E ================= -->
<g id="panel-e">
<text class="pl" x="0" y="655">e</text>
<path d="M139,759V1021M291,759V1021" stroke="#c8c8c8" stroke-width="2" stroke-dasharray="7 5" fill="none"/>
<line x1="47" y1="1085" x2="47" y2="733" class="ax" marker-end="url(#ah)"/>
<path class="ax" d="M39,1085H389M67,1085V1091M217,1085V1091M367,1085V1091"/>
<text class="m" transform="translate(35,906) rotate(-90)">Energy of linear subsystem</text>
<line x1="68" y1="867" x2="380" y2="867" class="dot"/>
<path d="M67,806C121.75,806 162.25,927 217,927C271.75,927 312.25,806 367,806" fill="none" stroke="#f39c2a" stroke-width="5"/>
<path d="M67,806C121.75,806 162.25,927 217,927C271.75,927 312.25,806 367,806" fill="none" stroke="#17939a" stroke-width="5" clip-path="url(#ce)"/>
<rect class="osq" x="59.5" y="798.5" width="15" height="15"/>
<rect class="osq" x="359.5" y="798.5" width="15" height="15"/>
<rect class="tsq" x="209.5" y="919.5" width="15" height="15"/>
<path d="M172,887Q214,934 256,887" fill="none" stroke="#5fb3b9" stroke-width="2" marker-start="url(#ahLT)" marker-end="url(#ahLT)"/>
<path d="M325,846Q367,799 410,846" fill="none" stroke="#f4b676" stroke-width="2" marker-start="url(#ahLO)" marker-end="url(#ahLO)"/>
<text class="tk m" x="215" y="900">λ<tspan font-size="14" dy="4">s</tspan></text>
<text class="tk m" x="367" y="848">λ<tspan font-size="14" dy="4">u</tspan></text>
<text class="md" x="51" y="767">Unstable</text><text class="md" x="51" y="788">FP</text>
<text class="md e" x="387" y="767">Unstable</text><text class="md e" x="387" y="788">FP</text>
<text class="md m" x="216" y="962">Stable</text><text class="md m" x="216" y="984">FP</text>
<rect class="ofill" x="67" y="1032" width="300" height="26"/>
<rect class="tfill" x="139" y="1032" width="152" height="26"/>
<rect x="67" y="1032" width="300" height="26" fill="none" stroke="#555" stroke-width="1.2"/>
<path class="sep" d="M139,1032V1058M291,1032V1058"/>
<rect class="osq" x="59.5" y="1037.5" width="15" height="15"/>
<rect class="osq" x="359.5" y="1037.5" width="15" height="15"/>
<rect class="tsq" x="210" y="1038" width="14" height="14"/>
<text class="tk m" x="67" y="1113">−Δ<tspan class="it">θ</tspan>/2</text>
<text class="tk m" x="217" y="1113">0</text>
<text class="tk m" x="367" y="1113">Δ<tspan class="it">θ</tspan>/2</text>
<text class="m" x="217" y="1143">Orientation</text>
</g>

<!-- ================= PANEL F ================= -->
<g id="panel-f">
<text class="pl" x="427" y="653">f</text>
<text class="m" x="721" y="651">Effective energy</text>
<path d="M557,673V1142M882,673V1142" stroke="#f7c99a" stroke-width="2" stroke-dasharray="7 5" fill="none"/>
<path d="M719,688L557,1142M719,688L882,1142" stroke="#a8a8a8" stroke-width="2" stroke-dasharray="7 5" fill="none"/>
<line x1="719" y1="1142" x2="719" y2="671" stroke="#5ab0b6" stroke-width="2" stroke-dasharray="7 5" marker-end="url(#ahT2)"/>
<path class="dot" d="M532,688H903M532,747H903M532,825H882M532,904H903M532,983H882M532,1061H903M532,1120H882"/>
<path class="ax" d="M532,669V1139M525,669H532M525,688H532M525,747H532M525,825H532M525,904H532M525,983H532M525,1061H532M525,1120H532M525,1139H532"/>
<path class="ax" d="M557,1149H882M557,1149V1155M719,1149V1155M882,1149V1155"/>
<g fill="none" stroke-width="5">
<path d="M557,673C616.1,673 659.9,688 719,688C778.1,688 822.9,673 882,673" stroke="#f39c2a"/>
<path d="M557,700C616.1,700 659.9,757 719,757C778.1,757 822.9,700 882,700" stroke="#f39c2a"/>
<path d="M557,700C616.1,700 659.9,757 719,757C778.1,757 822.9,700 882,700" stroke="#17939a" clip-path="url(#cf2)"/>
<path d="M557,761C616.1,761 659.9,857 719,857C778.1,857 822.9,761 882,761" stroke="#f39c2a"/>
<path d="M557,761C616.1,761 659.9,857 719,857C778.1,857 822.9,761 882,761" stroke="#17939a" clip-path="url(#cf3)"/>
<path d="M557,845C616.1,845 659.9,962 719,962C778.1,962 822.9,845 882,845" stroke="#f39c2a"/>
<path d="M557,845C616.1,845 659.9,962 719,962C778.1,962 822.9,845 882,845" stroke="#17939a" clip-path="url(#cf4)"/>
<path d="M557,945C616.1,945 659.9,1058 719,1058C778.1,1058 822.9,945 882,945" stroke="#f39c2a"/>
<path d="M557,945C616.1,945 659.9,1058 719,1058C778.1,1058 822.9,945 882,945" stroke="#17939a" clip-path="url(#cf5)"/>
<path d="M557,1048C616.1,1048 659.9,1126 719,1126C778.1,1126 822.9,1048 882,1048" stroke="#f39c2a"/>
<path d="M557,1048C616.1,1048 659.9,1126 719,1126C778.1,1126 822.9,1048 882,1048" stroke="#17939a" clip-path="url(#cf6)"/>
<path d="M557,1119C616.1,1119 659.9,1143 719,1143C778.1,1143 822.9,1119 882,1119" stroke="#17939a"/>
</g>
<g class="osq">
<rect x="550.5" y="666.5" width="13" height="13"/><rect x="875.5" y="666.5" width="13" height="13"/>
<rect x="550.5" y="693.5" width="13" height="13"/><rect x="875.5" y="693.5" width="13" height="13"/>
<rect x="550.5" y="754.5" width="13" height="13"/><rect x="875.5" y="754.5" width="13" height="13"/>
<rect x="550.5" y="838.5" width="13" height="13"/><rect x="875.5" y="838.5" width="13" height="13"/>
<rect x="550.5" y="938.5" width="13" height="13"/><rect x="875.5" y="938.5" width="13" height="13"/>
<rect x="550.5" y="1041.5" width="13" height="13"/><rect x="875.5" y="1041.5" width="13" height="13"/>
<rect x="550.5" y="1112.5" width="13" height="13"/><rect x="875.5" y="1112.5" width="13" height="13"/>
</g>
<g class="tsq">
<rect x="712.5" y="681.5" width="13" height="13"/>
<rect x="712.5" y="750.5" width="13" height="13"/>
<rect x="712.5" y="850.5" width="13" height="13"/>
<rect x="712.5" y="955.5" width="13" height="13"/>
<rect x="712.5" y="1051.5" width="13" height="13"/>
<rect x="712.5" y="1119.5" width="13" height="13"/>
<rect x="712.5" y="1136.5" width="13" height="13"/>
</g>
<g fill="#fff" stroke="#111" stroke-width="2">
<circle cx="918" cy="688" r="14"/><circle cx="918" cy="747" r="14"/><circle cx="918" cy="904" r="14"/><circle cx="918" cy="1061" r="14"/>
</g>
<text class="tk m" x="918" y="695">1</text><text class="tk m" x="918" y="754">2</text><text class="tk m" x="918" y="911">3</text><text class="tk m" x="918" y="1068">4</text>
<text class="tk e" x="516" y="676">1/2.4</text>
<text class="tk e" x="516" y="911">1/3.0</text>
<text class="tk e" x="516" y="1146">1/4.0</text>
<text class="tk m" transform="translate(449,904) rotate(-90)">1/<tspan class="it">J</tspan><tspan font-size="13" dy="3">E</tspan></text>
<text class="tk m" x="557" y="1178">−Δ<tspan class="it">θ</tspan>/2</text>
<text class="tk m" x="719" y="1178">0</text>
<text class="tk m" x="882" y="1178">Δ<tspan class="it">θ</tspan>/2</text>
<text class="m" x="719" y="1207">Orientation</text>
</g>

<!-- ================= PANEL G ================= -->
<g id="panel-g">
<text class="pl" x="983" y="653">g</text>
<text class="m" x="1389" y="651">Bump dynamics</text>
<g clip-path="url(#cg1)"><use href="#f1" x="1050" y="668"/><use href="#f1" x="1157.5" y="668"/><use href="#f1" x="1265" y="668"/><use href="#f1" x="1372.5" y="668"/></g>
<g clip-path="url(#cg2)"><use href="#f2" x="1406" y="668"/><use href="#f2" x="1513.5" y="668"/><use href="#f2" x="1621" y="668"/><use href="#f2" x="1728.5" y="668"/></g>
<g clip-path="url(#cg3)"><use href="#f3" x="1050" y="920"/><use href="#f3" x="1157.5" y="920"/><use href="#f3" x="1265" y="920"/><use href="#f3" x="1372.5" y="920"/></g>
<g clip-path="url(#cg4)"><use href="#f4" x="1406" y="920"/><use href="#f4" x="1513.5" y="920"/><use href="#f4" x="1621" y="920"/><use href="#f4" x="1728.5" y="920"/></g>
<path class="ax" d="M1050,668H1372.5M1050,889H1372.5M1050,668V889M1045,668H1050M1045,741.7H1050M1045,815.4H1050M1045,889H1050M1050,889V895M1211.25,889V895M1372.5,889V895"/>
<path class="ax" d="M1406,668H1728.5M1406,889H1728.5M1406,668V889M1401,668H1406M1401,741.7H1406M1401,815.4H1406M1401,889H1406M1406,889V895M1567.25,889V895M1728.5,889V895"/>
<path class="ax" d="M1050,920H1372.5M1050,1141H1372.5M1050,920V1141M1045,920H1050M1045,993.7H1050M1045,1067.4H1050M1045,1141H1050M1050,1141V1147M1211.25,1141V1147M1372.5,1141V1147"/>
<path class="ax" d="M1406,920H1728.5M1406,1141H1728.5M1406,920V1141M1401,920H1406M1401,993.7H1406M1401,1067.4H1406M1401,1141H1406M1406,1141V1147M1567.25,1141V1147M1728.5,1141V1147"/>
<g fill="#fff" stroke="#111" stroke-width="2">
<circle cx="1349" cy="695" r="15"/><circle cx="1705" cy="695" r="15"/><circle cx="1349" cy="951" r="15"/><circle cx="1705" cy="951" r="15"/>
</g>
<text class="tk m" x="1349" y="702">1</text><text class="tk m" x="1705" y="702">2</text><text class="tk m" x="1349" y="958">3</text><text class="tk m" x="1705" y="958">4</text>
<g class="md e">
<text x="1038" y="676">0</text><text x="1038" y="749">1</text><text x="1038" y="823">2</text><text x="1038" y="897">3</text>
<text x="1038" y="928">0</text><text x="1038" y="1001">1</text><text x="1038" y="1075">2</text><text x="1038" y="1149">3</text>
</g>
<text class="m" transform="translate(1006,778) rotate(-90)">Time (s)</text>
<text class="m" transform="translate(1006,1031) rotate(-90)">Time (s)</text>
<g class="md m">
<text x="1050" y="1170">0</text><text x="1211" y="1170">π/2</text><text x="1372" y="1170">π</text>
<text x="1406" y="1170">0</text><text x="1567" y="1170">π/2</text><text x="1728" y="1170">π</text>
</g>
<text class="m" x="1211" y="1203">Orientation (rad)</text>
<text class="m" x="1567" y="1203">Orientation (rad)</text>
</g>

<!-- ================= PANEL H ================= -->
<g id="panel-h">
<text class="pl" x="1750" y="645">h</text>
<line x1="1873" y1="638" x2="1893" y2="638" stroke="#111" stroke-width="3"/>
<text class="md" x="1909" y="645">Analytic</text>
<circle cx="2016" cy="638" r="4.5" fill="#fff" stroke="#111" stroke-width="2"/>
<text class="md" x="2037" y="645">Simulation</text>
<rect x="1859" y="668" width="294" height="472" fill="none" stroke="#111" stroke-width="1.5"/>
<path class="ax" d="M1853,668H1859M1853,746H1859M1853,825H1859M1853,903H1859M1853,981H1859M1853,1059H1859M1853,1139H1859M1859,1140V1146M1918,1140V1146M1977,1140V1146M2036,1140V1146M2095,1140V1146M2153,1140V1146"/>
<text class="tk e" x="1843" y="676">1/2.4</text>
<text class="tk e" x="1843" y="911">1/3.0</text>
<text class="tk e" x="1843" y="1146">1/4.0</text>
<text class="tk m" transform="translate(1776,904) rotate(-90)">1/<tspan class="it">J</tspan><tspan font-size="13" dy="3">E</tspan></text>
<g class="tk m">
<text x="1859" y="1170">0</text><text x="1918" y="1170">0.1</text><text x="1977" y="1170">0.2</text><text x="2036" y="1170">0.3</text><text x="2095" y="1170">0.4</text><text x="2153" y="1170">0.5</text>
</g>
<text class="m" x="2006" y="1199">Net drift speed (rad s<tspan font-size="14" dy="-9">−1</tspan><tspan dy="9">)</tspan></text>
<polyline points="1859,668 1898.3,694.2 1935.7,720.4 1969.3,746.3 2001.7,772.5 2031,798.7 2056,825 2075.3,851.2 2090.3,877.4 2101.5,903.7 2106,929.9 2106,956.1 2095.5,982.4 2078.3,1008.6 2052,1034.8 2017.7,1061 1975.3,1087.3 1921.3,1113.6 1859,1139" fill="none" stroke="#111" stroke-width="3" stroke-linejoin="round"/>
<g fill="#bdbdbd" stroke="#111" stroke-width="1.5">
<circle cx="1898.3" cy="694.2" r="6.5"/><circle cx="1935.7" cy="720.4" r="6.5"/><circle cx="1969.3" cy="746.3" r="6.5"/><circle cx="2001.7" cy="772.5" r="6.5"/><circle cx="2031" cy="798.7" r="6.5"/><circle cx="2056" cy="825" r="6.5"/><circle cx="2075.3" cy="851.2" r="6.5"/><circle cx="2090.3" cy="877.4" r="6.5"/><circle cx="2102.7" cy="903.7" r="6.5"/><circle cx="2106" cy="929.9" r="6.5"/><circle cx="2106" cy="956.1" r="6.5"/><circle cx="2094.3" cy="982.4" r="6.5"/><circle cx="2078.3" cy="1008.6" r="6.5"/><circle cx="2052" cy="1034.8" r="6.5"/><circle cx="2017.7" cy="1061" r="6.5"/><circle cx="1975.3" cy="1087.3" r="6.5"/><circle cx="1921.3" cy="1113.6" r="6.5"/>
</g>
</g>
</svg>
